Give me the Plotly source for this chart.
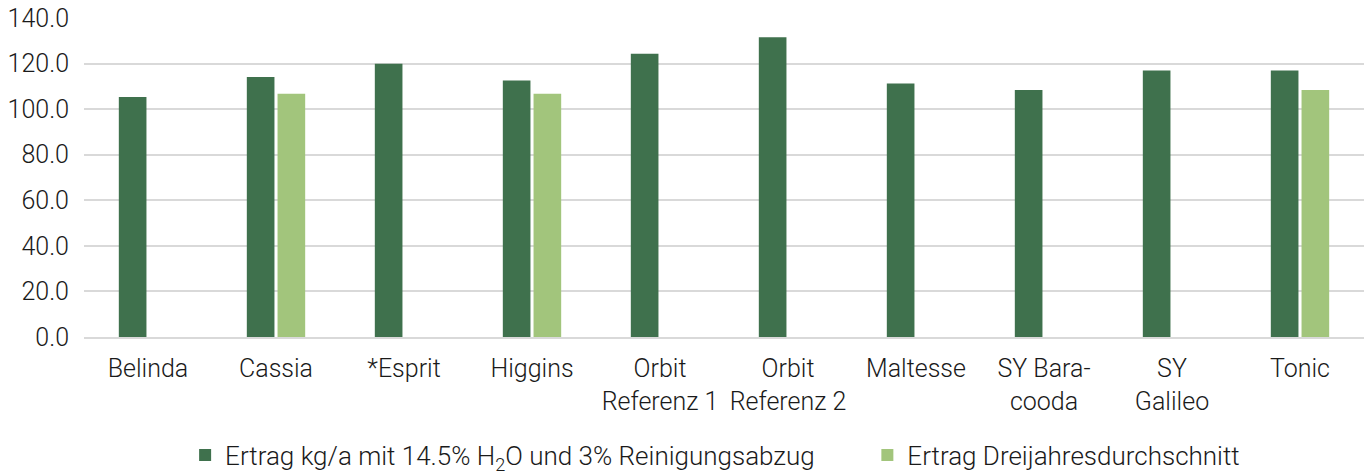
import plotly.graph_objects as go

categories = ["Belinda", "Cassia", "*Esprit", "Higgins", "Orbit<br>Referenz 1",
              "Orbit<br>Referenz 2", "Maltesse", "SY Bara-<br>cooda", "SY<br>Galileo", "Tonic"]
ertrag = [105.3, 114.1, 119.9, 112.6, 124.3, 131.5, 111.3, 108.4, 117.0, 117.0]
dreijahres = [None, 106.8, None, 106.8, None, None, None, None, None, 108.4]
y_ticks = [0, 20, 40, 60, 80, 100, 120, 140]

name1 = "Ertrag kg/a mit 14.5% H<sub>2</sub>O und 3% Reinigungsabzug"
name2 = "Ertrag Dreijahresdurchschnitt"

FONT = "Roboto"
FS = 25
fig = go.Figure()
fig.add_trace(go.Bar(x=categories, y=ertrag, name=name1, legend="legend",
                     marker=dict(color="#3F714D", line=dict(width=0))))
fig.add_trace(go.Bar(x=categories, y=dreijahres, name=name2, legend="legend2",
                     marker=dict(color="#A2C57C", line=dict(width=0))))

leg = dict(orientation="h", y=-0.37, yanchor="middle", xanchor="left",
           font=dict(size=26, weight=300), bgcolor="rgba(0,0,0,0)")
fig.update_layout(
    width=1365, height=475,
    margin=dict(l=84, r=1, t=18, b=138, autoexpand=False),
    paper_bgcolor="white", plot_bgcolor="white",
    barmode="group", bargap=0.52, bargroupgap=0.1,
    font=dict(family=FONT, size=FS, color="#1a1a1a", weight=300),
    showlegend=True,
    legend=dict(leg, x=0.079),
    legend2=dict(leg, x=0.612),
    xaxis=dict(showgrid=False, showline=True, linecolor="#D9D9D9", linewidth=2,
               ticks="", ticklabelstandoff=8, tickfont=dict(size=FS, weight=300)),
    yaxis=dict(range=[0, 140], tickvals=y_ticks, tickformat=".1f",
               showgrid=True, gridcolor="#D9D9D9", gridwidth=2,
               zeroline=False, ticks="", ticklabelstandoff=14,
               tickfont=dict(size=FS, weight=300)),
)
fig.write_html("out.html", config={"displayModeBar": False},
               post_script="document.body.style.margin='0';")
